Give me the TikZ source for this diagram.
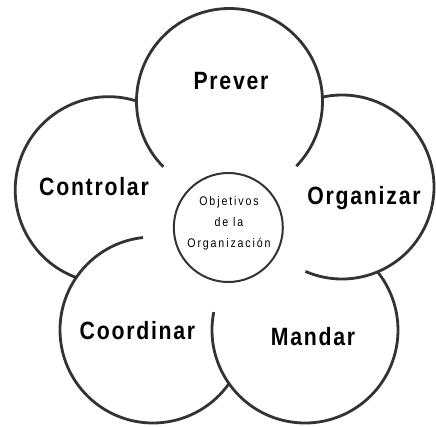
\documentclass[tikz,border=0pt]{standalone}
\usepackage{fontspec}
\newfontfamily\lblfont[FakeStretch=0.85,LetterSpace=7]{Liberation Sans}
\newfontfamily\objfont[FakeStretch=0.85,LetterSpace=15]{Liberation Sans}
\definecolor{ink}{HTML}{333333}
\begin{document}
\begin{tikzpicture}[x=1pt,y=1pt,
  petal/.style={draw=ink, line width=2.8pt},
  lbl/.style={anchor=base, inner sep=0pt, text=black,
    font=\lblfont\bfseries\fontsize{25}{30}\selectfont},
  objcircle/.style={circle, draw=ink, line width=2pt, minimum size=109pt, inner sep=0pt},
  objtxt/.style={align=center, inner sep=0pt, text=black,
    font=\objfont\fontsize{12.5}{21}\selectfont}]
\useasboundingbox (0,0) rectangle (436,-427);
% circle centres
\coordinate (cP) at (229.5,-101.5);
\coordinate (cO) at (342,-187);
\coordinate (cM) at (305,-330);
\coordinate (cC) at (153,-330);
\coordinate (cT) at (108.5,-190);
% petals
\draw[petal] ([shift={(-44.1:93)}]cP) arc[start angle=-44.1, end angle=224.6, radius=93];
\draw[petal] ([shift={(-113.4:92)}]cO) arc[start angle=-113.4, end angle=102.5, radius=92];
\draw[petal] ([shift={(168.9:93)}]cM) arc[start angle=168.9, end angle=398.5, radius=93];
\draw[petal] ([shift={(96.2:93)}]cC) arc[start angle=96.2, end angle=324.8, radius=93];
\draw[petal] ([shift={(72.7:93.3)}]cT) arc[start angle=72.7, end angle=249.8, radius=93.3];
% labels
\node[lbl] (prever) at (231,-89.3) {Prever};
\node[lbl] (controlar) at (94,-196) {Controlar};
\node[lbl] (organizar) at (364,-205) {Organizar};
\node[lbl] (coordinar) at (137.5,-339.5) {Coordinar};
\node[lbl] (mandar) at (313,-345) {Mandar};
% centre
\node[objcircle] (obj) at (228.3,-227.5) {};
\node[objtxt] (objlbl) at (229,-223.6) {Objetivos\\de la\\Organización};
\end{tikzpicture}
\end{document}
